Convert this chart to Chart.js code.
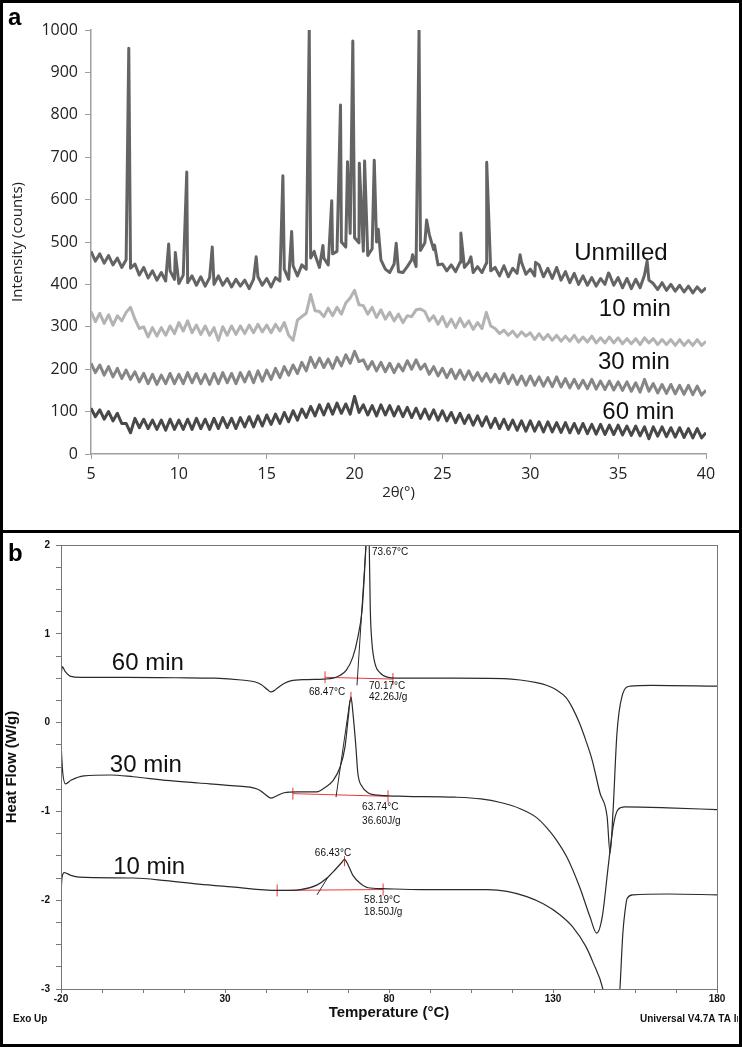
<!DOCTYPE html>
<html>
<head>
<meta charset="utf-8">
<script src="https://cdn.jsdelivr.net/npm/chart.js@4.4.0/dist/chart.umd.min.js"></script>
<style>
body { margin: 0; background: #fff; }
#frame { position: absolute; left: 0; top: 0; width: 742px; height: 1047px; border: 3px solid #000; box-sizing: border-box; }
#sep { position: absolute; left: 0; top: 530px; width: 742px; height: 3px; background: #000; }
#boxA { position: absolute; left: 3px; top: 3px; width: 735px; height: 527px; }
#boxB { position: absolute; left: 3px; top: 533px; width: 735px; height: 511px; overflow: hidden; }
.tag { position: absolute; font: bold 24px "Liberation Sans", Arial, sans-serif; line-height: 24px; }
</style>
</head>
<body>
<div id="frame"></div>
<div id="boxA"><canvas id="xrd" width="735" height="527"></canvas></div>
<div id="boxB"><canvas id="dsc" width="735" height="511"></canvas></div>
<div id="sep"></div>
<div class="tag" style="left:8px;top:5px">a</div>
<div class="tag" style="left:8px;top:541px">b</div>
<script>
// ---- panel a : XRD ----
const theta = [
  5,5.25,5.5,5.75,6,6.25,6.5,6.75,7,7.25,7.5,7.75,8,8.25,8.5,8.75,9,9.25,9.5,9.75,
  10,10.25,10.5,10.75,11,11.25,11.5,11.75,12,12.25,12.5,12.75,13,13.25,13.5,13.75,14,14.25,14.5,14.75,
  15,15.25,15.5,15.75,16,16.25,16.5,16.75,17,17.25,17.5,17.75,18,18.25,18.5,18.75,19,19.25,19.5,19.75,
  20,20.25,20.5,20.75,21,21.25,21.5,21.75,22,22.25,22.5,22.75,23,23.25,23.5,23.75,24,24.25,24.5,24.75,
  25,25.25,25.5,25.75,26,26.25,26.5,26.75,27,27.25,27.5,27.75,28,28.25,28.5,28.75,29,29.25,29.5,29.75,
  30,30.25,30.5,30.75,31,31.25,31.5,31.75,32,32.25,32.5,32.75,33,33.25,33.5,33.75,34,34.25,34.5,34.75,
  35,35.25,35.5,35.75,36,36.25,36.5,36.75,37,37.25,37.5,37.75,38,38.25,38.5,38.75,39,39.25,39.5,39.75,40
];
const unmilledBase = [
  478,455,472,450,468,446,462,440,458,438,448,422,440,415,432,410,428,408,432,412,
  402,422,404,420,398,418,396,416,400,420,398,414,394,412,396,410,390,412,418,398,
  414,394,416,408,436,412,444,420,446,436,462,470,440,462,446,472,478,500,488,520,
  510,498,478,468,484,500,458,436,428,448,430,428,442,458,442,480,498,518,482,446,
  448,432,446,430,452,440,452,428,442,428,450,432,440,420,444,418,438,426,452,424,
  436,420,446,418,438,414,440,410,430,404,426,400,420,398,416,396,414,400,424,398,
  416,392,414,390,412,392,422,410,402,388,404,386,400,384,398,382,396,380,394,382,392
];
const unmilledPeaks = [
  [7.15,957],[9.42,495],[9.8,475],[10.45,665],[11.9,488],[14.4,465],[15.92,656],[16.42,525],
  [17.42,1000],[17.7,478],[18.2,492],[18.7,597],[19.2,823],[19.6,689],[19.9,974],[20.27,686],
  [20.57,691],[21.12,693],[21.35,530],[22.37,497],[23.3,470],[23.67,1000],[24.1,552],[24.55,493],
  [26.05,521],[26.62,465],[27.52,688],[29.42,470],[30.3,452],[31.5,440],[34.45,427],[36.65,455]
];
const min10 = [
  336,312,332,308,328,304,326,314,334,346,318,296,300,276,298,278,298,280,302,284,
  310,290,314,286,304,282,302,280,298,268,300,280,302,282,302,284,304,286,306,288,
  304,286,306,290,310,280,268,316,324,332,376,338,336,324,344,326,346,330,356,368,
  386,352,350,330,346,322,340,318,334,314,330,310,326,324,340,342,336,314,326,306,
  324,300,318,298,320,300,314,294,310,296,334,302,296,284,292,280,290,276,288,278,
  286,270,284,270,282,268,280,266,278,266,280,264,276,264,278,262,274,262,276,262,
  274,260,272,260,272,258,274,262,272,258,270,258,270,256,270,256,268,256,270,256,266
];
const min30 = [
  214,192,210,186,206,182,202,178,198,176,194,170,190,166,188,164,186,166,190,166,
  188,166,192,168,190,166,188,164,190,166,192,168,190,166,192,170,194,168,196,172,
  198,176,202,180,206,186,210,190,216,196,228,204,226,204,224,202,228,208,234,214,
  242,218,222,200,218,196,216,194,214,192,212,196,220,200,222,200,212,188,206,184,
  202,180,200,178,198,176,196,174,192,172,190,170,188,168,190,166,186,164,184,162,
  184,162,182,160,180,159,182,158,178,156,176,155,174,154,176,153,172,152,172,151,
  170,150,170,148,168,146,176,148,166,144,164,143,164,142,162,141,162,140,160,139,150
];
const min60 = [
  108,88,104,82,100,78,96,72,72,50,84,62,82,60,80,58,80,56,82,58,
  80,58,82,58,84,60,82,58,84,60,86,62,84,60,86,64,88,64,90,66,
  92,70,94,72,98,76,102,80,106,86,112,90,116,92,118,94,120,96,118,94,
  136,98,116,92,114,90,116,92,114,90,112,88,110,86,108,84,106,82,104,80,
  102,78,98,74,96,72,92,68,90,66,88,62,84,60,82,58,80,56,78,54,
  78,54,76,52,76,52,74,51,74,50,72,49,72,48,70,47,70,46,68,46,
  68,45,66,44,66,43,64,36,64,42,64,41,62,40,62,39,60,38,60,38,50
];
const xrdNames = ['Unmilled', '10 min', '30 min', '60 min'];
const xrdNameAt = [[32.5, 474], [33.9, 340], [33.85, 215], [34.1, 99]];

// ---- panel b : DSC ----
const dsc60 = [
  [-20,0.52],[-19.6,0.63],[-18.8,0.58],[-17,0.52],[-14,0.51],[0,0.51],[15,0.505],[27,0.5],[35,0.48],
  [39,0.46],[41,0.43],[43,0.37],[44,0.345],[45,0.36],[46,0.39],[48,0.44],[50,0.47],[55,0.485],[60,0.49],
  [63,0.5],[65,0.53],[67,0.59],[69,0.74],[70.5,0.96],[71.8,1.27],[72.4,1.6],[72.9,1.95],[73.67,2.6],
  [74.0,1.95],[74.3,1.27],[74.8,0.9],[75.7,0.67],[77.3,0.56],[79.7,0.51],[85,0.5],[100,0.5],[115,0.495],
  [120,0.48],[125,0.45],[128,0.42],[131,0.37],[134,0.28],[136,0.16],[138,0.0],[140,-0.2],[142,-0.43],
  [144.3,-0.79],[146.5,-1.06],[147.4,-1.47],[148.3,-1.0],[149.5,-0.12],[151,0.29],[153.5,0.41],[160,0.42],[180,0.41]
];
const dsc30 = [
  [-20,-0.23],[-19.5,-0.55],[-18.6,-0.69],[-17,-0.65],[-13,-0.6],[-5,-0.59],[2,-0.61],[12,-0.65],[22,-0.68],
  [32,-0.71],[40,-0.75],[42,-0.8],[44,-0.85],[45.5,-0.83],[48,-0.79],[52,-0.78],[58,-0.78],[60.5,-0.73],
  [63,-0.65],[65.1,-0.5],[66.6,-0.27],[67.5,0.03],[68.4,0.29],[69,0.11],[69.9,-0.27],[70.5,-0.57],
  [71.8,-0.72],[73.6,-0.79],[77.3,-0.82],[85,-0.83],[100,-0.84],[108,-0.86],[114,-0.9],[120,-0.97],
  [125,-1.07],[128,-1.18],[131,-1.32],[134.3,-1.52],[138.2,-1.86],[141.3,-2.19],[143.3,-2.37],[145,-2.19],
  [146.8,-1.63],[148.3,-1.18],[149.8,-0.98],[152,-0.95],[165,-0.96],[180,-0.98]
];
const dsc10 = [
  [-20,-1.93],[-19.7,-1.75],[-19,-1.69],[-17,-1.72],[-14.5,-1.74],[2,-1.75],[12,-1.78],[22,-1.82],[32,-1.85],
  [46,-1.89],[53,-1.88],[58,-1.83],[61.1,-1.75],[63.5,-1.66],[65.7,-1.57],[66.4,-1.54],[67.5,-1.6],[69,-1.72],
  [71.2,-1.81],[73.6,-1.86],[78,-1.87],[90,-1.88],[110,-1.88],[116,-1.9],[122,-1.96],[127,-2.04],[132,-2.16],
  [136,-2.3],[140,-2.52],[142.2,-2.7],[145.2,-3.0],[147,-3.4],[148.5,-3.6],[150,-3.2],[150.4,-3.0],
  [151.3,-2.37],[152,-2.11],[152.6,-1.98],[154.4,-1.94],[165,-1.93],[180,-1.94]
];
const base60 = [[60.5,0.51],[81.2,0.49]];
const base30 = [[50.7,-0.8],[79.7,-0.83]];
const base10 = [[45.9,-1.89],[78.2,-1.88]];
const tan60 = [[70.24,0.42],[73.0,2.0]];
const tan30 = [[63.84,-0.84],[68.1,0.25]];
const tan10 = [[58.05,-1.94],[61.4,-1.74]];
const peakMarks = [[68.4,0.29],[66.43,-1.56]];
const dscNames = ['60 min', '30 min', '10 min'];
const dscNameAt = [[-4.5,0.67],[-5.1,-0.48],[-4.1,-1.63]];
const dscNotes = ['73.67°C','68.47°C','70.17°C','42.26J/g','63.74°C','36.60J/g','66.43°C','58.19°C','18.50J/g'];
const dscNoteAt = [[74.8,1.92],[55.6,0.345],[73.9,0.41],[73.9,0.29],[71.8,-0.95],[71.8,-1.11],[57.4,-1.47],[72.4,-2.0],[72.4,-2.14]];

function toPoints(xs, ys) {
    return xs.map((x, i) => ({x: x, y: ys[i]}));
}
function pairs(list) {
    return list.map(p => ({x: p[0], y: p[1]}));
}

var unmilled = toPoints(theta, unmilledBase).concat(pairs(unmilledPeaks));
unmilled.sort((a, b) => a.x - b.x);

const xrdText = {
    id: 'xrdText',
    afterDatasetsDraw(chart) {
        const ctx = chart.ctx;
        const sx = chart.scales.x, sy = chart.scales.y;
        ctx.save();
        ctx.font = '24px "Liberation Sans", Arial, sans-serif';
        ctx.fillStyle = '#111';
        ctx.textBaseline = 'middle';
        for (let i = 0; i < xrdNames.length; i++) {
            ctx.fillText(xrdNames[i], sx.getPixelForValue(xrdNameAt[i][0]), sy.getPixelForValue(xrdNameAt[i][1]));
        }
        ctx.restore();
    }
};

const xrdLine = (data, color) => ({
    data: data, borderColor: color, borderWidth: 3, pointRadius: 0,
    borderJoinStyle: 'round', tension: 0
});

new Chart(document.getElementById('xrd'), {
    type: 'line',
    data: {
        datasets: [
            xrdLine(toPoints(theta, min60), '#484848'),
            xrdLine(toPoints(theta, min30), '#868686'),
            xrdLine(toPoints(theta, min10), '#b3b3b3'),
            xrdLine(unmilled, '#646464')
        ]
    },
    options: {
        responsive: false,
        animation: false,
        layout: { padding: { top: 27, right: 32, left: 0, bottom: 0 } },
        plugins: { legend: { display: false }, tooltip: { enabled: false } },
        scales: {
            x: {
                type: 'linear', min: 5, max: 40,
                ticks: { stepSize: 5, color: '#222', font: { family: 'Open Sans', size: 16 }, padding: 6, maxRotation: 0 },
                grid: { drawOnChartArea: false, tickLength: 5, color: '#a0a0a0' },
                border: { color: '#a0a0a0', width: 1.5 },
                title: { display: true, text: '2θ(°)', color: '#222', font: { family: 'Open Sans', size: 15 }, padding: { top: 0, bottom: 28 } },
                afterFit: s => { s.height = 76; }
            },
            y: {
                min: 0, max: 1000,
                ticks: { stepSize: 100, color: '#222', font: { family: 'Open Sans', size: 16 }, padding: 7, callback: v => String(v) },
                grid: { drawOnChartArea: false, tickLength: 6, color: '#a0a0a0' },
                border: { color: '#a0a0a0', width: 1.5 },
                title: { display: true, text: 'Intensity (counts)', color: '#222', font: { family: 'Open Sans', size: 15 }, padding: { top: 6, bottom: 0 } },
                afterFit: s => { s.width = 88; }
            }
        }
    },
    plugins: [xrdText]
});

const dscText = {
    id: 'dscText',
    afterDatasetsDraw(chart) {
        const ctx = chart.ctx;
        const a = chart.chartArea;
        const sx = chart.scales.x, sy = chart.scales.y;
        ctx.save();
        ctx.strokeStyle = '#777';
        ctx.lineWidth = 1;
        ctx.strokeRect(a.left + 0.5, a.top + 0.5, a.right - a.left, a.bottom - a.top);
        ctx.fillStyle = '#111';
        ctx.textBaseline = 'middle';
        ctx.font = '24px "Liberation Sans", Arial, sans-serif';
        for (let i = 0; i < dscNames.length; i++) {
            ctx.fillText(dscNames[i], sx.getPixelForValue(dscNameAt[i][0]), sy.getPixelForValue(dscNameAt[i][1]));
        }
        ctx.font = '10px "Liberation Sans", Arial, sans-serif';
        for (let i = 0; i < dscNotes.length; i++) {
            ctx.fillText(dscNotes[i], sx.getPixelForValue(dscNoteAt[i][0]), sy.getPixelForValue(dscNoteAt[i][1]));
        }
        ctx.font = 'bold 10px "Liberation Sans", Arial, sans-serif';
        ctx.fillText('Exo Up', 10, 486);
        ctx.fillText('Universal V4.7A TA Instruments', 637, 486);
        ctx.restore();
    }
};

const red = '#e8383d';
const curve = data => ({ data: pairs(data), borderColor: '#2a2a2a', borderWidth: 1.2, pointRadius: 0, cubicInterpolationMode: 'monotone' });
const baseLine = data => ({ data: pairs(data), borderColor: red, borderWidth: 1, pointStyle: 'line', pointRotation: 90, pointRadius: 6, pointBorderColor: red, pointBorderWidth: 1 });
const tangent = data => ({ data: pairs(data), borderColor: '#2a2a2a', borderWidth: 1, pointRadius: 0 });

new Chart(document.getElementById('dsc'), {
    type: 'line',
    data: {
        datasets: [
            curve(dsc60), curve(dsc30), curve(dsc10),
            tangent(tan60), tangent(tan30), tangent(tan10),
            baseLine(base60), baseLine(base30), baseLine(base10),
            { data: pairs(peakMarks), showLine: false, pointStyle: 'line', pointRotation: 90, pointRadius: 5, pointBorderColor: red, pointBorderWidth: 1 }
        ]
    },
    options: {
        responsive: false,
        animation: false,
        layout: { padding: { top: 12, right: 21, left: 0, bottom: 0 } },
        plugins: { legend: { display: false }, tooltip: { enabled: false } },
        scales: {
            x: {
                type: 'linear', min: -20, max: 180,
                ticks: { stepSize: 12.5, color: '#111', font: { family: 'Liberation Sans', size: 10, weight: 'bold' }, padding: 0, maxRotation: 0, autoSkip: false,
                    callback: v => ((v + 20) % 50 === 0 ? v : '') },
                grid: { drawOnChartArea: false, tickLength: 4, color: '#777' },
                border: { color: '#777' },
                title: { display: true, text: 'Temperature (°C)', color: '#111', font: { family: 'Liberation Sans', size: 15, weight: 'bold' }, padding: { top: 0, bottom: 22 } },
                afterFit: s => { s.height = 55; }
            },
            y: {
                min: -3, max: 2,
                ticks: { stepSize: 0.25, color: '#111', font: { family: 'Liberation Sans', size: 10, weight: 'bold' }, padding: 6, autoSkip: false,
                    callback: v => (Number.isInteger(v) ? v : '') },
                grid: { drawOnChartArea: false, tickLength: 5, color: '#777' },
                border: { color: '#777' },
                title: { display: true, text: 'Heat Flow (W/g)', color: '#111', font: { family: 'Liberation Sans', size: 15, weight: 'bold' }, padding: { top: 0, bottom: 0 } },
                afterFit: s => { s.width = 58; }
            }
        }
    },
    plugins: [dscText]
});
</script>
</body>
</html>
